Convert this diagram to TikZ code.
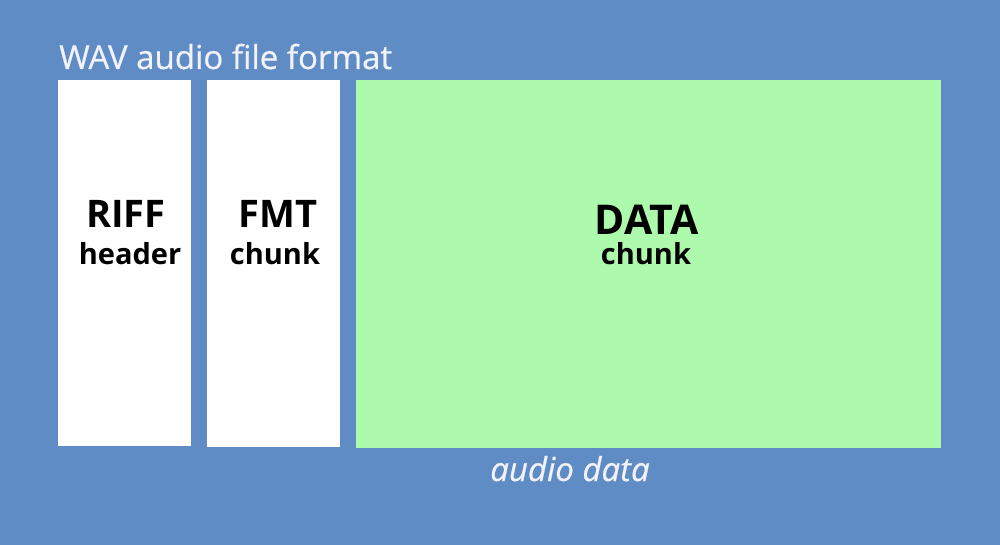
\documentclass[tikz,border=0pt]{standalone}
\usepackage{fontspec}
\setmainfont{Open Sans}
\newfontfamily\semifont[FakeBold=0.6]{Open Sans}
\definecolor{bgblue}{HTML}{5F8CC4}
\definecolor{datagreen}{HTML}{ADFAAD}
\definecolor{titlewhite}{HTML}{F2F2FA}
\begin{document}
\begin{tikzpicture}[x=1pt,y=-1pt,
  block/.style={draw=none,anchor=north west,inner sep=0pt},
  big/.style={font=\fontsize{38}{42}\selectfont\bfseries,text=black},
  small/.style={font=\fontsize{29}{32}\selectfont\bfseries,text=black}]
\fill[bgblue] (0,0) rectangle (1000,545);
\useasboundingbox (0,0) rectangle (1000,545);
\node[block,fill=white,minimum width=133pt,minimum height=366pt] (riff) at (58,80) {};
\node[block,fill=white,minimum width=133pt,minimum height=367pt] (fmt) at (207,80) {};
\node[block,fill=datagreen,minimum width=585pt,minimum height=368pt] (data) at (356,80) {};
\node[anchor=base west,inner sep=0pt,text=titlewhite,font=\fontsize{33}{36}\semifont] (title) at (59,69) {WAV audio file format};
\node[big,anchor=base] (riffT) at (126,228) {RIFF};
\node[small,anchor=base] (riffS) at (130,264) {header};
\node[big,anchor=base] (fmtT) at (278,228) {FMT};
\node[small,anchor=base] (fmtS) at (275,264) {chunk};
\node[big,anchor=base,font=\fontsize{41}{45}\selectfont\bfseries] (dataT) at (647,234) {DATA};
\node[small,anchor=base] (dataS) at (646,264) {chunk};
\node[anchor=base,inner sep=0pt,text=titlewhite,font=\fontsize{33}{36}\semifont\itshape] (audio) at (570,481) {audio data};
\end{tikzpicture}
\end{document}
